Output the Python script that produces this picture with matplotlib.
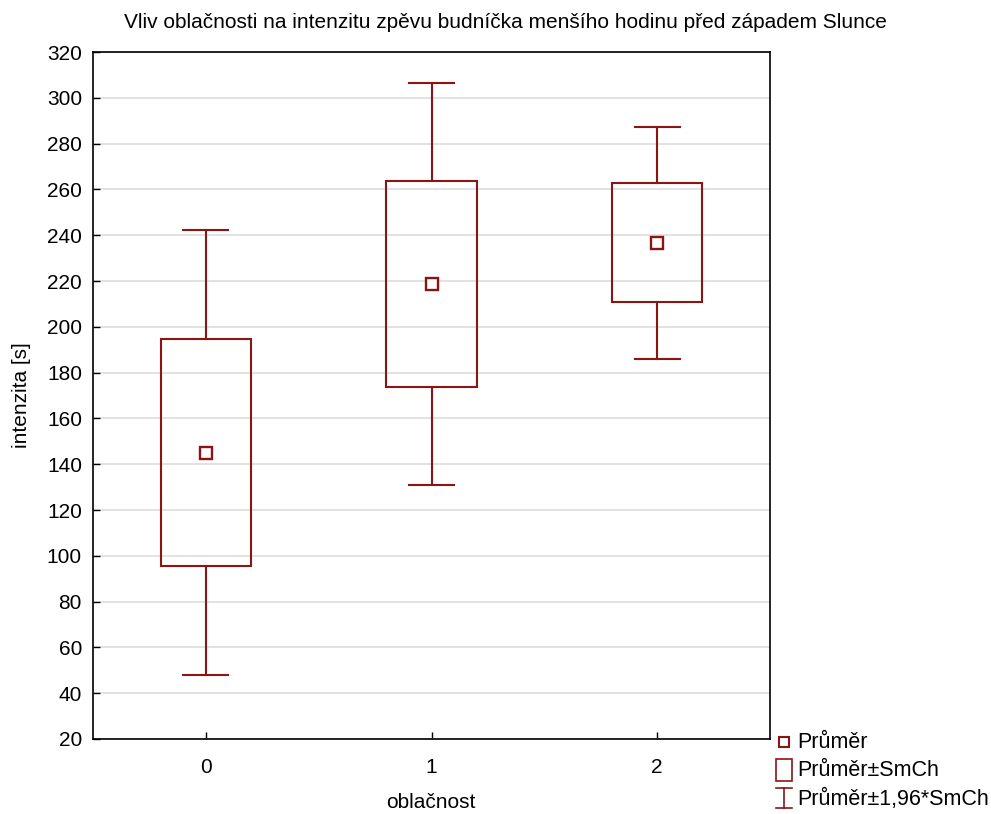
import matplotlib
matplotlib.use("Agg")
import matplotlib.pyplot as plt
from matplotlib.patches import Rectangle
from matplotlib.lines import Line2D
import numpy as np

plt.rcParams['font.family'] = ['Liberation Sans', 'DejaVu Sans']

categories = ["0", "1", "2"]
means = [145.0, 218.7, 236.7]
se = [49.6, 44.8, 25.9]
yticks = list(range(20, 321, 20))

title = "Vliv oblačnosti na intenzitu zpěvu budníčka menšího hodinu před západem Slunce"
xlabel = "oblačnost"
ylabel = "intenzita [s]"
legend_labels = ["Průměr", "Průměr±SmCh", "Průměr±1,96*SmCh"]

col = "#8b1414"
W, H = 991, 814
fig = plt.figure(figsize=(W / 100, H / 100), dpi=100)
ax = fig.add_axes([93 / W, 1 - 739 / H, (770 - 93) / W, (739 - 52) / H])

box_w = 0.4
cap_w = 0.2
lw = 1.5
for i, (m, s) in enumerate(zip(means, se)):
    lo, hi = m - s, m + s
    wlo, whi = m - 1.96 * s, m + 1.96 * s
    ax.add_patch(Rectangle((i - box_w / 2, lo), box_w, hi - lo, fill=False,
                           edgecolor=col, lw=lw, zorder=3))
    ax.plot([i, i], [hi, whi], color=col, lw=lw, zorder=3)
    ax.plot([i, i], [wlo, lo], color=col, lw=lw, zorder=3)
    ax.plot([i - cap_w / 2, i + cap_w / 2], [whi, whi], color=col, lw=lw, zorder=3)
    ax.plot([i - cap_w / 2, i + cap_w / 2], [wlo, wlo], color=col, lw=lw, zorder=3)
    ax.plot([i], [m], marker='s', ms=8, mfc='white', mec=col, mew=1.7, zorder=4)

ax.set_xlim(-0.5, 2.5)
ax.set_ylim(20, 320)
ax.set_xticks(range(len(categories)))
ax.set_xticklabels(categories)
ax.set_yticks(yticks)
ax.tick_params(direction='in', labelsize=15, length=5, width=1)
ax.tick_params(axis='y', pad=8)
ax.tick_params(axis='x', pad=14)
ax.yaxis.grid(True, color='#dddddd', lw=1.2, zorder=0)
ax.set_axisbelow(True)
for sp in ax.spines.values():
    sp.set_linewidth(1.2)
    sp.set_color('black')

fig.text(505 / W, 1 - 22 / H, title, ha='center', va='center', fontsize=15)
fig.text(431 / W, 1 - 803 / H, xlabel, ha='center', va='center', fontsize=15)
fig.text(22 / W, 1 - 395 / H, ylabel, ha='center', va='center', rotation=90, fontsize=15)

# legend (drawn in figure pixel coords)
def fx(x):
    return x / W

def fy(y):
    return 1 - y / H

tr = fig.transFigure
fig.add_artist(Rectangle((fx(779), fy(747)), 10 / W, 10 / H, fill=False,
                         edgecolor=col, lw=1.5, transform=tr))
fig.add_artist(Rectangle((fx(776), fy(781)), 16 / W, 22 / H, fill=False,
                         edgecolor=col, lw=1.2, transform=tr))
fig.add_artist(Line2D([fx(784), fx(784)], [fy(788), fy(808)], color=col, lw=1.2, transform=tr))
fig.add_artist(Line2D([fx(776), fx(792)], [fy(788), fy(788)], color=col, lw=1.2, transform=tr))
fig.add_artist(Line2D([fx(776), fx(792)], [fy(808), fy(808)], color=col, lw=1.2, transform=tr))
for lab, y in zip(legend_labels, [742, 771, 799]):
    fig.text(fx(797), fy(y), lab, ha='left', va='center', fontsize=15.5)

fig.savefig("out.png", dpi=100)
